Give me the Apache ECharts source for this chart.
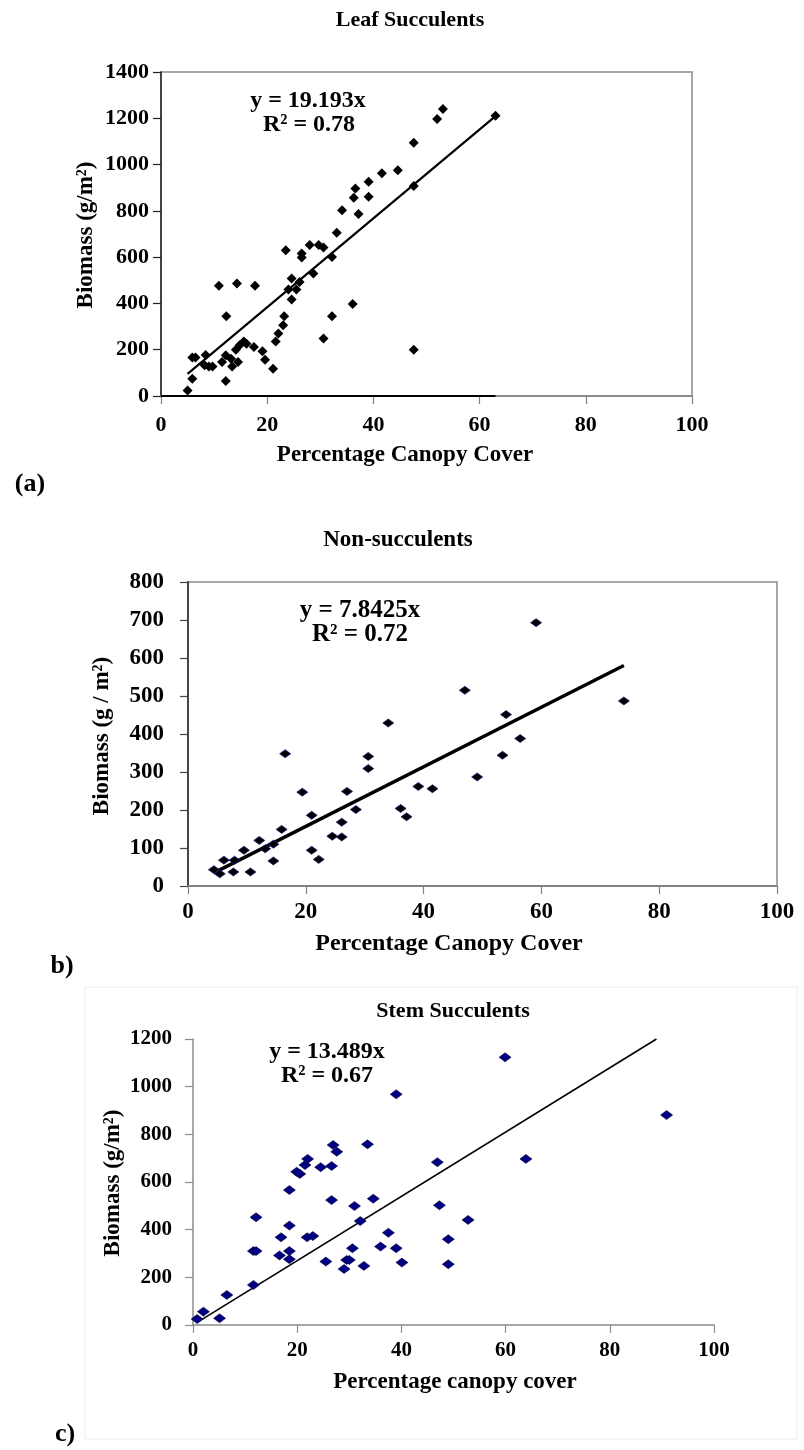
<!DOCTYPE html>
<html>
<head>
<meta charset="utf-8">
<script src="https://cdn.jsdelivr.net/npm/echarts@6/dist/echarts.min.js"></script>
<style>
html,body{margin:0;padding:0;background:#fff;}
#chart{width:804px;height:1450px;}
</style>
</head>
<body>
<div id="chart"></div>
<script>
// ---- Panel (a): Leaf Succulents ----
const aX = [5.0,5.9,5.9,6.5,8.4,8.2,9.0,9.7,10.9,12.3,12.2,11.5,12.2,13.2,13.4,14.5,14.3,14.1,14.8,15.6,16.1,17.5,17.7,19.1,19.6,21.1,21.6,22.1,23.0,23.2,23.5,24.6,24.6,24.0,25.5,26.1,26.5,26.5,28.0,28.7,29.7,30.6,30.6,32.2,32.2,33.1,34.1,36.3,36.6,37.2,36.1,39.1,39.1,41.6,44.6,47.6,47.6,47.6,52.0,53.1,63.0];
const aY = [24,75,166,166,177,133,128,128,476,345,65,147,176,161,128,147,486,200,219,236,226,212,476,193,157,118,236,270,306,345,630,417,508,460,460,493,616,598,652,529,652,642,248,345,601,705,803,857,897,786,397,926,861,962,976,1094,907,200,1197,1240,1211];
const aSlope = 19.193;
const aTrendX = [5.0, 63.0];

// ---- Panel (b): Non-succulents ----
const bX = [4.4,5.4,6.1,7.7,7.9,9.5,10.6,12.1,13.1,14.5,14.5,15.9,16.5,19.4,21.0,21.0,22.2,24.5,26.1,26.1,27.0,28.5,30.6,30.6,34.0,36.1,37.1,39.1,41.5,47.0,49.1,53.4,54.0,56.4,59.1,74.0];
const bY = [43,32,68,37,68,94,37,120,98,66,110,149,348,247,186,94,70,131,168,129,249,201,341,309,429,204,182,262,256,515,287,344,451,388,693,487];
const bSlope = 7.8425;
const bTrendX = [4.4, 74.0];

// ---- Panel (c): Stem Succulents ----
const cX = [0.8,2.0,5.1,6.5,11.6,11.6,12.1,12.1,16.6,16.9,18.5,18.5,18.5,18.5,19.9,20.5,21.5,22.0,21.9,23.0,24.5,25.5,26.6,26.6,26.9,27.6,29.0,29.5,30.0,30.6,31.0,32.1,32.8,33.5,34.6,36.0,37.5,39.0,39.0,40.1,46.9,47.3,49.0,49.0,52.8,59.9,63.9,90.9];
const cY = [25,56,28,126,168,310,310,452,292,368,310,276,417,566,643,634,671,697,368,373,662,266,524,667,755,727,235,273,273,322,499,436,248,758,530,329,387,322,968,262,683,502,360,255,441,1123,697,881];
const cSlope = 13.489;
const cTrendX = [0.8, 88.96];

// ---- Tick labels / axis ranges ----
const xTicks = [0,20,40,60,80,100];
const aYTicks = [0,200,400,600,800,1000,1200,1400];
const bYTicks = [0,100,200,300,400,500,600,700,800];
const cYTicks = [0,200,400,600,800,1000,1200];

const FONT = '"Liberation Serif", "Times New Roman", serif';

function pts(xs, ys){ return xs.map((x,i)=>[x, ys[i]]); }
function trend(xs, k){ return xs.map(x=>[x, +(k*x).toFixed(2)]); }

function xAxisCfg(gi, color, size, margin, lineW){
  return {
    type:'value', gridIndex:gi, min:xTicks[0], max:xTicks[xTicks.length-1], interval:20,
    splitLine:{show:false},
    axisLine:{show:true, onZero:false, lineStyle:{color:color, width:lineW}},
    axisTick:{show:true, inside:false, length:8, lineStyle:{color:color, width:1.2}},
    axisLabel:{color:'#000', fontFamily:FONT, fontWeight:'bold', fontSize:size, margin:margin,
      formatter:v=>String(v)}
  };
}
function yAxisCfg(gi, ticks, color, size, margin, lineW){
  return {
    type:'value', gridIndex:gi, min:ticks[0], max:ticks[ticks.length-1], interval:ticks[1]-ticks[0],
    splitLine:{show:false},
    axisLine:{show:true, onZero:false, lineStyle:{color:color, width:lineW}},
    axisTick:{show:true, inside:false, length:8, lineStyle:{color:color, width:1.2}},
    axisLabel:{color:'#000', fontFamily:FONT, fontWeight:'bold', fontSize:size, margin:margin,
      formatter:v=>String(v)}
  };
}
function txt(x, y, s, size, rot){
  return {type:'text', x:x, y:y, rotation:rot||0, z:100,
    style:{text:s, font:'bold '+size+'px '+FONT, fill:'#000', align:'center', verticalAlign:'middle'}};
}

const chart = echarts.init(document.getElementById('chart'), null, {renderer:'canvas'});
chart.setOption({
  animation:false,
  backgroundColor:'#ffffff',
  grid:[
    {left:161, top:72, width:531, height:324, show:true, borderColor:'#8c8c8c', borderWidth:1.5, backgroundColor:'rgba(0,0,0,0)'},
    {left:188, top:582, width:589, height:304, show:true, borderColor:'#8c8c8c', borderWidth:1.5, backgroundColor:'rgba(0,0,0,0)'},
    {left:193, top:1039, width:521, height:286}
  ],
  xAxis:[
    xAxisCfg(0, '#808080', 22, 18, 1.5),
    xAxisCfg(1, '#808080', 23, 15, 2),
    xAxisCfg(2, '#8c8c8c', 21, 15, 1.5)
  ],
  yAxis:[
    yAxisCfg(0, aYTicks, '#222', 22, 12, 1.5),
    yAxisCfg(1, bYTicks, '#444', 23, 24, 2),
    yAxisCfg(2, cYTicks, '#8c8c8c', 21, 21, 1.5)
  ],
  series:[
    {type:'line', xAxisIndex:0, yAxisIndex:0, data:[[xTicks[0],0],[aTrendX[1],0]], symbol:'none', clip:false,
      lineStyle:{color:'#000', width:2}, z:3},
    {type:'line', xAxisIndex:0, yAxisIndex:0, data:trend(aTrendX, aSlope), symbol:'none',
      lineStyle:{color:'#000', width:2.2}, z:3},
    {type:'scatter', xAxisIndex:0, yAxisIndex:0, data:pts(aX,aY), symbol:'diamond', symbolSize:[10,10],
      itemStyle:{color:'#000', opacity:1}, z:4},
    {type:'line', xAxisIndex:1, yAxisIndex:1, data:trend(bTrendX, bSlope), symbol:'none',
      lineStyle:{color:'#000', width:3.4}, z:3},
    {type:'scatter', xAxisIndex:1, yAxisIndex:1, data:pts(bX,bY), symbol:'diamond', symbolSize:[11,8],
      itemStyle:{color:'#000', borderColor:'#1c1c78', borderWidth:0.8, opacity:1}, z:4},
    {type:'line', xAxisIndex:2, yAxisIndex:2, data:trend(cTrendX, cSlope), symbol:'none',
      lineStyle:{color:'#000', width:1.6}, z:3},
    {type:'scatter', xAxisIndex:2, yAxisIndex:2, data:pts(cX,cY), symbol:'diamond', symbolSize:[12,9],
      itemStyle:{color:'#000080', borderColor:'#00003c', borderWidth:0.6, opacity:1}, z:4}
  ],
  graphic:[
    {type:'rect', shape:{x:85, y:987, width:712, height:452}, style:{fill:'rgba(0,0,0,0)', stroke:'#f6f6f6', lineWidth:2}, z:-1},
    txt(410, 20, 'Leaf Succulents', 22),
    txt(308, 101, 'y = 19.193x', 24),
    txt(309, 125, 'R² = 0.78', 24),
    txt(405, 455, 'Percentage Canopy Cover', 23),
    txt(86, 235, 'Biomass (g/m²)', 23, Math.PI/2),
    txt(30, 484, '(a)', 26),
    txt(398, 540, 'Non-succulents', 23),
    txt(360, 611, 'y = 7.8425x', 25),
    txt(360, 635, 'R² = 0.72', 25),
    txt(449, 944, 'Percentage Canopy Cover', 24),
    txt(102, 736, 'Biomass (g / m²)', 23, Math.PI/2),
    txt(62, 966, 'b)', 26),
    txt(453, 1011, 'Stem Succulents', 22),
    txt(327, 1052, 'y = 13.489x', 24),
    txt(327, 1076, 'R² = 0.67', 24),
    txt(455, 1382, 'Percentage canopy cover', 23),
    txt(113, 1183, 'Biomass (g/m²)', 23, Math.PI/2),
    txt(65, 1434, 'c)', 26)
  ]
});
</script>
</body>
</html>
